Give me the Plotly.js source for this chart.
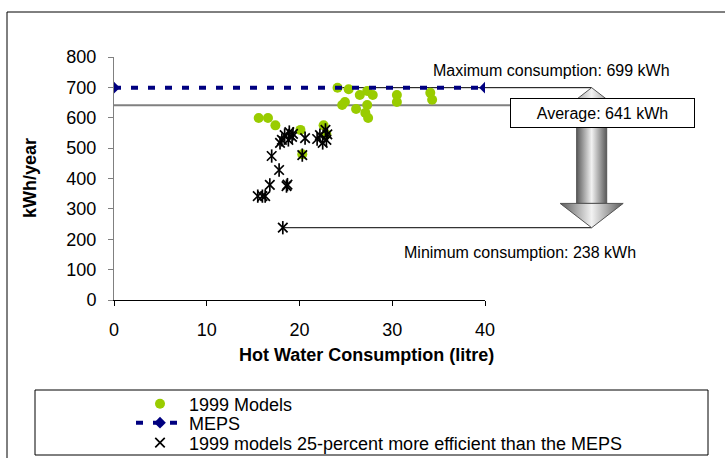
<!DOCTYPE html>
<html>
<head>
<meta charset="utf-8">
<script src="https://cdn.plot.ly/plotly-3.0.1.min.js"></script>
<style>
  html, body { margin: 0; padding: 0; background: #ffffff; }
  #chart { width: 725px; height: 458px; }
</style>
</head>
<body>
<div id="chart"></div>
<script>
// 1999 models: hot water consumption (litre) against energy use (kWh/year)
const models1999X = [15.6, 16.6, 17.4, 20.1, 20.3, 22.6, 22.9, 24.1, 25.3, 24.9, 24.6,
                     26.1, 26.5, 27.3, 27.9, 27.3, 27.1, 27.4, 30.5, 30.5, 34.1, 34.3];
const models1999Y = [599, 599, 575, 560, 480, 575, 545, 699, 694, 652, 642,
                     629, 675, 688, 675, 642, 616, 599, 675, 652, 682, 659];

// Minimum energy performance standard
const mepsX = [0, 40];
const mepsY = [699, 699];

// 1999 models that are 25 % more efficient than the MEPS
const efficientX = [15.5, 16.0, 16.3, 16.8, 18.6, 18.7, 17.8, 17.0, 17.9, 18.1, 18.4, 18.9,
                    19.2, 18.8, 19.3, 20.3, 20.6, 21.9, 22.2, 22.5, 22.8, 22.9, 23.0, 18.2];
const efficientY = [342, 342, 342, 379, 375, 380, 428, 474, 517, 527, 543, 553,
                    537, 527, 547, 477, 533, 530, 543, 517, 560, 527, 545, 238];

// Summary figures shown on the right
const maxKWh = 699;
const avgKWh = 641;
const minKWh = 238;

const xTicks = [0, 10, 20, 30, 40];
const yTicks = [0, 100, 200, 300, 400, 500, 600, 700, 800];

// ---- geometry ----
const W = 725, H = 458;
const M = { l: 114, r: 10, t: 57, b: 158, autoexpand: false };
const plotW = W - M.l - M.r;             // 601
const plotH = H - M.t - M.b;             // 243
const axisEndPx = 485;                   // right end of the visible x axis
const xDomainEnd = (axisEndPx - M.l) / plotW;
const xMax = 40;
const x2Max = xMax / xDomainEnd;         // hidden axis sharing the same scale, full width

const px = v => (v - M.l) / plotW;         // page pixel -> paper x
const py = v => (M.t + plotH - v) / plotH; // page pixel -> paper y
const xPaper = v => v / x2Max;             // data x -> paper x

const FONT = 'Liberation Sans, Arial, sans-serif';
const LEGEND_FONT = { family: FONT, size: 18, color: '#000000' };

// double-headed arrow between max and min consumption
const arrowX = 51.5;
const shaftHalf = 1.62;
const headHalf = 3.4;
const headLen = 80;
const arrowGrad = {
  type: 'horizontal',
  colorscale: [[0, '#5a5a5a'], [0.5, '#f2f2f2'], [1, '#5a5a5a']]
};

const traces = [
  {
    name: '1999 Models', legend: 'legend',
    x: models1999X, y: models1999Y,
    type: 'scatter', mode: 'markers',
    marker: { color: '#99cc00', size: 10, symbol: 'circle' }
  },
  {
    name: 'MEPS', legend: 'legend2',
    x: mepsX, y: mepsY,
    type: 'scatter', mode: 'lines+markers',
    line: { color: '#000080', width: 4, dash: '7px,10px' },
    marker: { color: '#000080', size: 9, symbol: 'diamond' }
  },
  {
    name: '1999 models 25-percent more efficient than the MEPS', legend: 'legend3',
    x: efficientX, y: efficientY,
    type: 'scatter', mode: 'markers',
    marker: { symbol: 'x-thin-open', size: 9.5, color: '#000000', line: { color: '#000000', width: 1.7 } }
  },
  {
    name: 'efficient-vertical',
    x: efficientX, y: efficientY,
    type: 'scatter', mode: 'markers', showlegend: false, hoverinfo: 'skip',
    marker: { symbol: 'line-ns-open', size: 9.5, color: '#000000', line: { color: '#000000', width: 1.7 } }
  },
  // arrow shaft
  {
    x: [arrowX - shaftHalf, arrowX + shaftHalf, arrowX + shaftHalf, arrowX - shaftHalf, arrowX - shaftHalf],
    y: [minKWh + headLen, minKWh + headLen, maxKWh - headLen, maxKWh - headLen, minKWh + headLen],
    xaxis: 'x2', yaxis: 'y',
    type: 'scatter', mode: 'lines', fill: 'toself', fillgradient: arrowGrad,
    line: { color: '#555555', width: 1 }, showlegend: false, hoverinfo: 'skip'
  },
  // lower arrow head
  {
    x: [arrowX - headHalf, arrowX + headHalf, arrowX, arrowX - headHalf],
    y: [minKWh + headLen, minKWh + headLen, minKWh, minKWh + headLen],
    xaxis: 'x2', yaxis: 'y',
    type: 'scatter', mode: 'lines', fill: 'toself', fillgradient: arrowGrad,
    line: { color: '#555555', width: 1 }, showlegend: false, hoverinfo: 'skip'
  },
  // upper arrow head
  {
    x: [arrowX - headHalf, arrowX + headHalf, arrowX, arrowX - headHalf],
    y: [maxKWh - headLen, maxKWh - headLen, maxKWh, maxKWh - headLen],
    xaxis: 'x2', yaxis: 'y',
    type: 'scatter', mode: 'lines', fill: 'toself', fillgradient: arrowGrad,
    line: { color: '#555555', width: 1 }, showlegend: false, hoverinfo: 'skip'
  }
];

const maxIdx = models1999Y.indexOf(Math.max(...models1999Y));
const minIdx = efficientY.indexOf(Math.min(...efficientY));

// one legend box per row so each entry sits on its own line
const legendRow = yPx => ({
  x: px(131), y: py(yPx), xanchor: 'left', yanchor: 'middle',
  orientation: 'v', bgcolor: 'rgba(0,0,0,0)', borderwidth: 0,
  itemwidth: 48, font: LEGEND_FONT
});

const layout = {
  width: W, height: H,
  margin: M,
  paper_bgcolor: '#ffffff',
  plot_bgcolor: 'rgba(0,0,0,0)',
  font: { family: FONT, size: 18, color: '#000000' },
  showlegend: true,
  xaxis: {
    domain: [0, xDomainEnd],
    range: [0, xMax], fixedrange: true,
    tickmode: 'array', tickvals: xTicks, ticktext: xTicks.map(String),
    showgrid: false, zeroline: false,
    showline: true, linecolor: '#000000', linewidth: 1,
    ticks: 'outside', ticklen: 5, tickcolor: '#000000',
    ticklabelstandoff: 8,
    tickfont: { family: FONT, size: 18, color: '#000000' }
  },
  xaxis2: {
    domain: [0, 1], anchor: 'y',
    range: [0, x2Max], visible: false, fixedrange: true
  },
  yaxis: {
    range: [0, 800], fixedrange: true,
    tickmode: 'array', tickvals: yTicks, ticktext: yTicks.map(String),
    showgrid: false, zeroline: false,
    showline: true, linecolor: '#808080', linewidth: 1,
    ticks: 'outside', ticklen: 5, tickcolor: '#808080',
    ticklabelstandoff: 8,
    tickfont: { family: FONT, size: 18, color: '#000000' }
  },
  legend: legendRow(404),
  legend2: legendRow(423),
  legend3: legendRow(443),
  shapes: [
    // outer chart frame
    { type: 'rect', xref: 'paper', yref: 'paper', x0: px(7), x1: px(740), y0: py(480), y1: py(12),
      line: { color: '#000000', width: 1 }, fillcolor: 'rgba(0,0,0,0)', layer: 'below' },
    // legend frame
    { type: 'rect', xref: 'paper', yref: 'paper', x0: px(35), x1: px(708), y0: py(455), y1: py(390),
      line: { color: '#000000', width: 1 }, fillcolor: 'rgba(0,0,0,0)', layer: 'below' },
    // average level
    { type: 'line', xref: 'paper', yref: 'y', x0: 0, x1: px(510), y0: avgKWh, y1: avgKWh,
      line: { color: '#808080', width: 2 }, layer: 'below' },
    // maximum level connector
    { type: 'line', xref: 'paper', yref: 'y', x0: xPaper(models1999X[maxIdx]), x1: xPaper(arrowX), y0: maxKWh, y1: maxKWh,
      line: { color: '#000000', width: 1 }, layer: 'below' },
    // minimum level connector
    { type: 'line', xref: 'paper', yref: 'y', x0: xPaper(efficientX[minIdx]), x1: xPaper(arrowX), y0: minKWh, y1: minKWh,
      line: { color: '#000000', width: 1 }, layer: 'below' }
  ],
  annotations: [
    { xref: 'paper', yref: 'paper', x: px(551), y: py(70), xanchor: 'center', yanchor: 'middle',
      text: 'Maximum consumption: ' + maxKWh + ' kWh', showarrow: false,
      font: { family: FONT, size: 16, color: '#000000' } },
    { xref: 'paper', yref: 'paper', x: px(520), y: py(252), xanchor: 'center', yanchor: 'middle',
      text: 'Minimum consumption: ' + minKWh + ' kWh', showarrow: false,
      font: { family: FONT, size: 16, color: '#000000' } },
    { xref: 'paper', yref: 'paper', x: px(602.5), y: py(113), xanchor: 'center', yanchor: 'middle',
      text: 'Average: ' + avgKWh + ' kWh', showarrow: false,
      width: 181, height: 26, align: 'center', valign: 'middle',
      bgcolor: '#ffffff', bordercolor: '#000000', borderwidth: 1, borderpad: 1,
      font: { family: FONT, size: 16, color: '#000000' } },
    { xref: 'paper', yref: 'paper', x: px(366), y: py(355), xanchor: 'center', yanchor: 'middle',
      text: '<b>Hot Water Consumption (litre)</b>', showarrow: false,
      font: { family: FONT, size: 18, color: '#000000' } },
    { xref: 'paper', yref: 'paper', x: px(30), y: py(178), xanchor: 'center', yanchor: 'middle',
      text: '<b>kWh/year</b>', showarrow: false, textangle: -90,
      font: { family: FONT, size: 18, color: '#000000' } }
  ]
};

Plotly.newPlot('chart', traces, layout, { staticPlot: true, displayModeBar: false });
</script>
</body>
</html>
